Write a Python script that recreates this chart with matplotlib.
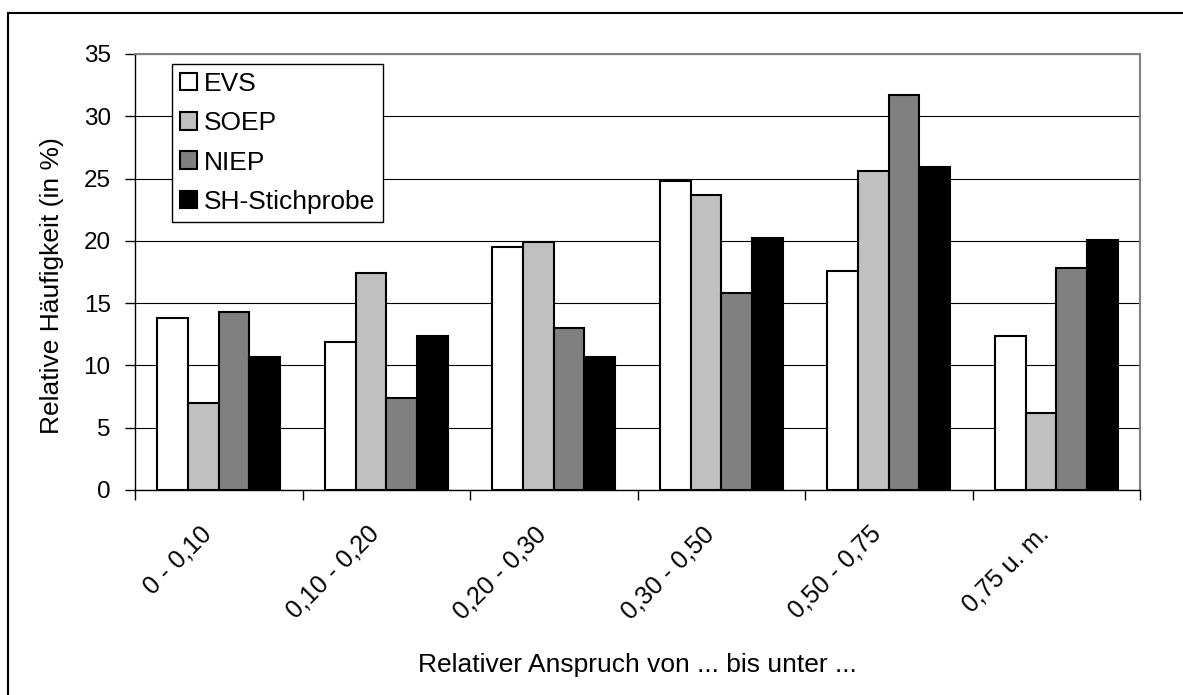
import matplotlib.pyplot as plt
import numpy as np
from matplotlib.lines import Line2D
from matplotlib.transforms import ScaledTranslation

plt.rcParams['font.family'] = ['Liberation Sans', 'DejaVu Sans']

categories = ['0 - 0,10', '0,10 - 0,20', '0,20 - 0,30', '0,30 - 0,50', '0,50 - 0,75', '0,75 u. m.']
evs = [13.8, 11.9, 19.5, 24.8, 17.6, 12.4]
soep = [7.0, 17.4, 19.9, 23.7, 25.6, 6.2]
niep = [14.3, 7.4, 13.0, 15.8, 31.7, 17.8]
sh = [10.7, 12.4, 10.7, 20.2, 25.9, 20.1]

series = [('EVS', evs, 'white'), ('SOEP', soep, '#c0c0c0'),
          ('NIEP', niep, '#808080'), ('SH-Stichprobe', sh, 'black')]

fig = plt.figure(figsize=(11.83, 6.95), dpi=100)
ax = fig.add_axes([135 / 1183, 1 - 490 / 695, 1005 / 1183, 436 / 695])

x = np.arange(len(categories))
w = 0.183
for i, (name, vals, col) in enumerate(series):
    ax.bar(x + (i - 1.5) * w, vals, w, color=col, edgecolor='black',
           linewidth=1.5, label=name, zorder=3)

ax.set_xlim(-0.5, len(categories) - 0.5)
ax.set_ylim(0, 35)
ax.set_yticks(range(0, 36, 5))
ax.yaxis.grid(True, color='black', linewidth=0.8, zorder=0)
ax.tick_params(axis='y', labelsize=17.5, length=7, width=1, pad=10.5)

ax.set_xticks(x)
ax.set_xticklabels(categories, rotation=45, ha='right', va='center',
                   rotation_mode='anchor', fontsize=18)
ax.tick_params(axis='x', which='major', length=0, pad=29)
ax.set_xticks(np.arange(-0.5, len(categories), 1), minor=True)
ax.tick_params(axis='x', which='minor', length=7, width=1)
shift = ScaledTranslation(-0.11, 0, fig.dpi_scale_trans)
for lbl in ax.get_xticklabels():
    lbl.set_transform(lbl.get_transform() + shift)

for s in ['top', 'right']:
    ax.spines[s].set_color('#808080')
    ax.spines[s].set_linewidth(1.5)
for s in ['left', 'bottom']:
    ax.spines[s].set_color('black')
    ax.spines[s].set_linewidth(1)

fig.text(52 / 1183, 1 - 286 / 695, 'Relative Häufigkeit (in %)', fontsize=19,
         rotation=90, ha='center', va='center')
fig.text(637 / 1183, 1 - 665 / 695, 'Relativer Anspruch von ... bis unter ...',
         fontsize=19, ha='center', va='center')

leg = ax.legend(loc='upper left', bbox_to_anchor=(37 / 1005, 1 - 10 / 436),
                fontsize=19, frameon=True, fancybox=False, framealpha=1,
                edgecolor='black', borderpad=0.3, labelspacing=0.58,
                handlelength=0.65, handleheight=0.65, handletextpad=0.27,
                borderaxespad=0)
leg.get_frame().set_linewidth(1)
leg.set_zorder(5)

fig.add_artist(Line2D([8 / 1183, 1], [1 - 12.5 / 695] * 2, color='black', lw=1.5))
fig.add_artist(Line2D([8 / 1183] * 2, [0, 1 - 12.5 / 695], color='black', lw=1.5))

fig.savefig('out.png', dpi=100)
